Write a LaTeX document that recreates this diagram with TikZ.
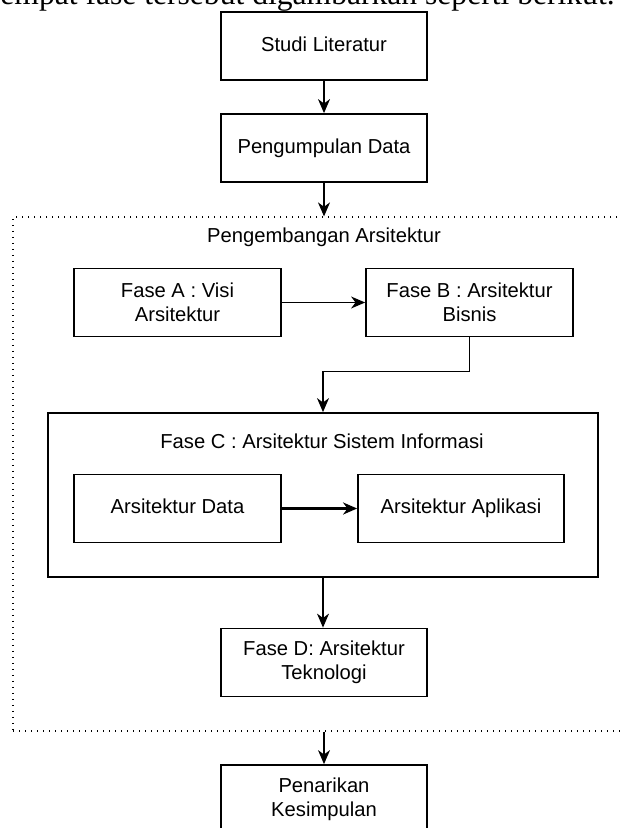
\documentclass[tikz,border=0pt]{standalone}
\usepackage{fontspec}
\setmainfont{Liberation Sans}
\newfontfamily\bodyserif{Liberation Serif}
\usetikzlibrary{arrows.meta}
\tikzset{every picture/.append style={x=0.5pt, y=-0.5pt}}
\tikzset{
    box/.style={rectangle, draw, line width=0.9pt, minimum width=103pt,
        minimum height=34pt, align=center, inner sep=2pt,
        font=\fontsize{10.1}{12}\selectfont},
    oneline/.style={text height=0.72em, text depth=0.21em},
    groupbox/.style={rectangle, draw, line width=0.9pt, inner sep=0pt},
    devbox/.style={rectangle, draw, line width=0.6pt,
        dash pattern=on 0.6pt off 2.4pt, inner sep=0pt},
    title/.style={font=\fontsize{10.1}{12}\selectfont, inner sep=0pt},
    flow/.style={-{Stealth[length=7pt, width=6pt, inset=2.2pt]}, line width=0.6pt},
    thickflow/.style={-{Stealth[length=7pt, width=6pt, inset=2.2pt]}, line width=1.2pt}
}

\begin{document}
\begin{tikzpicture}
	\useasboundingbox (0, 0) rectangle (620, 828);
	\clip (0, 0) rectangle (620, 828);
	\node (intro) [anchor=base west, inner sep=0pt,
		font=\bodyserif\fontsize{15.8}{18}\selectfont] at (0, 5)
		{empat fase tersebut digambarkan seperti berikut.};

	\node (studi) [box, oneline] at (324, 46) {Studi Literatur};
	\node (kumpul) [box, oneline] at (324, 148) {Pengumpulan Data};
	\node (dev) [devbox, minimum width=313.5pt, minimum height=257pt] at (326.5, 474) {};
	\node (devtitle) [title] at (324, 237) {Pengembangan Arsitektur};
	\node (faseA) [box, minimum width=103.5pt] at (177.5, 302.5) {Fase A : Visi\\Arsitektur};
	\node (faseB) [box, minimum width=103.5pt] at (469.5, 302.5) {Fase B : Arsitektur\\Bisnis};
	\node (faseC) [groupbox, minimum width=275pt, minimum height=82pt] at (323, 495) {};
	\node (ctitle) [title] at (322, 441) {Fase C : Arsitektur Sistem Informasi};
	\node (adata) [box, oneline, minimum width=103.5pt] at (177.5, 508.5) {Arsitektur Data};
	\node (aplikasi) [box, oneline] at (461, 508.5) {Arsitektur Aplikasi};
	\node (faseD) [box] at (324, 662.5) {Fase D: Arsitektur\\Teknologi};
	\node (tarik) [box] at (324, 799) {Penarikan\\Kesimpulan};

	\draw [flow] (studi) -- (kumpul);
	\draw [flow] (kumpul) -- (kumpul |- dev.north);
	\draw [flow] (faseA) -- (faseB);
	\draw [flow] (faseB.south) -- ++(0, 34) -| (faseC.north);
	\draw [thickflow] (adata) -- (aplikasi);
	\draw [flow] (faseC) -- (faseC |- faseD.north);
	\draw [flow] (tarik |- dev.south) -- (tarik);
\end{tikzpicture}
\end{document}
